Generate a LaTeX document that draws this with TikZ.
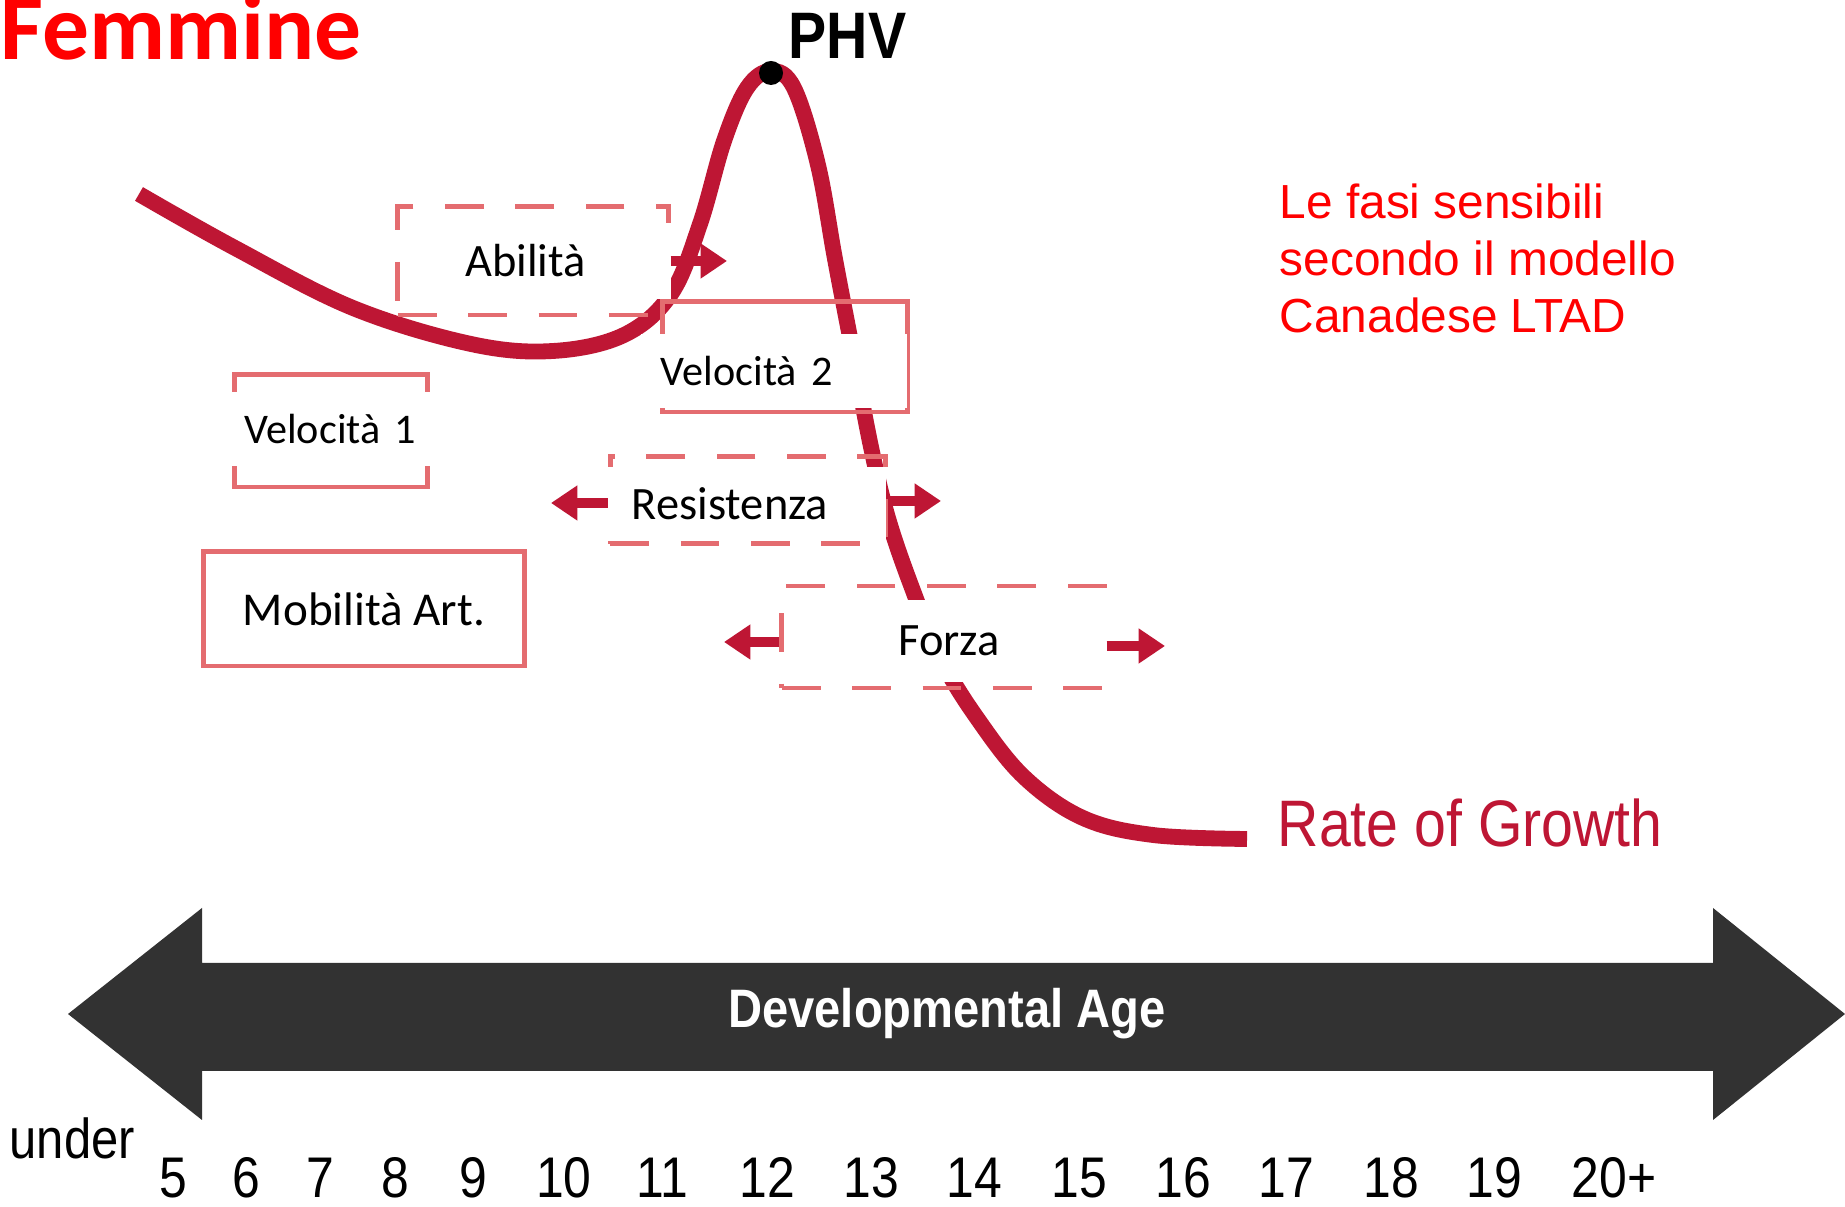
\documentclass[tikz,border=0pt]{standalone}
\usepackage{fontspec}
\setmainfont{Carlito}
\newfontfamily\arialfont{Liberation Sans}
\newfontfamily\condfont[FakeStretch=0.87]{Liberation Sans}
\usetikzlibrary{positioning,arrows.meta}

\definecolor{growthred}{RGB}{190,22,52}
\definecolor{boxred}{RGB}{228,108,112}
\definecolor{titlered}{RGB}{255,0,0}
\definecolor{axisgray}{RGB}{50,50,50}

\tikzset{
  solidbox/.style={draw=boxred, line width=1.4pt, rectangle, inner sep=0pt},
  dashbox/.style={solidbox, dash pattern=on 11pt off 9pt},
  lbl/.style={fill=white, inner ysep=0pt, font=\fontsize{13.2pt}{15pt}\selectfont},
  redarrow/.style={draw=growthred, line width=2.6pt, -{Triangle[length=7.5pt,width=9.5pt]}},
  agelbl/.style={anchor=base, inner sep=0pt, font=\condfont\fontsize{16.3pt}{19pt}\selectfont}
}

\begin{document}
\begin{tikzpicture}[x=0.01cm,y=-0.01cm]
\useasboundingbox (0,0) rectangle (1845,1207);
\fill[white] (0,0) rectangle (1845,1207);

\node[anchor=base west, inner sep=0pt, text=titlered, font=\bfseries\fontsize{26.6pt}{30pt}\selectfont] (title) at (0,60) {Femmine};

% growth curve
\draw[growthred, line width=4.5pt] plot[smooth, tension=0.6] coordinates {
  (139,194) (235,248) (353,308) (471,344) (553,351) (624,335) (671,294) (700,224)
  (724,141) (747,88) (771,71) (794,88) (818,165) (835,259) (853,353) (871,447)
  (888,518) (912,588) (941,659) (977,718) (1024,777) (1083,818) (1153,835) (1247,839)};

% sensitive phases
\node[dashbox, minimum width=2.70cm, minimum height=1.08cm] (abil box) at (533,261) {};
\node[solidbox, minimum width=2.45cm, minimum height=1.10cm] (vel2 box) at (785,357) {};
\node[solidbox, minimum width=1.93cm, minimum height=1.12cm] (vel1 box) at (331,431) {};
\node[dashbox, minimum width=2.75cm, minimum height=0.87cm] (res box) at (748,500) {};
\node[dashbox, minimum width=3.22cm, minimum height=1.02cm] (forza box) at (943,637) {};
\node[solidbox, minimum width=3.20cm, minimum height=1.14cm, font=\fontsize{13.4pt}{15pt}\selectfont] (mob box) at (364,609) {Mobilità Art.};

\node[lbl, minimum height=0.75cm, text width=1.45cm, inner xsep=0.60cm, align=left] (abil) at (538,261) {Abilità};
\node[lbl, minimum height=0.73cm, text width=2.26cm, inner xsep=0.20cm, align=left, font=\fontsize{12pt}{14pt}\selectfont] (vel2) at (774,371) {Velocità 2};
\node[lbl, minimum height=0.73cm, text width=1.75cm, inner xsep=0.21cm, align=left, font=\fontsize{12pt}{14pt}\selectfont] (vel1) at (332,429) {Velocità 1};
\node[lbl, minimum height=0.73cm, text width=2.24cm, inner xsep=0.30cm, align=left] (res) at (744,504) {Resistenza};
\node[lbl, minimum height=0.82cm, text width=3.26cm, inner xsep=0pt, align=center] (forza) at (949,641) {Forza};

% arrows
\coordinate (abil tip) at (727,261);
\coordinate (res ltip) at (551,503);
\coordinate (res rtip) at (941,501);
\coordinate (forza ltip) at (724,642);
\coordinate (forza rtip) at (1165,646);
\draw[redarrow] (abil box.east) -- (abil tip);
\draw[redarrow] (res box.west |- res ltip) -- (res ltip);
\draw[redarrow] (res box.east |- res rtip) -- (res rtip);
\draw[redarrow] (forza box.west |- forza ltip) -- (forza ltip);
\draw[redarrow] (forza box.east |- forza rtip) -- (forza rtip);

% peak height velocity
\node[circle, fill=black, inner sep=0pt, minimum size=0.24cm] (peak) at (771,73) {};
\node[anchor=base west, inner sep=0pt, font=\condfont\bfseries\fontsize{18.7pt}{22pt}\selectfont] (phv) at (788,59) {PHV};

\node[anchor=north west, inner sep=0pt, align=left, text=titlered, font=\arialfont\fontsize{13.6pt}{16.3pt}\selectfont] (note) at (1279,183) {Le fasi sensibili\\secondo il modello\\Canadese LTAD};
\node[anchor=base west, inner sep=0pt, text=growthred, font=\condfont\fontsize{18.7pt}{22pt}\selectfont] (rog) at (1277,847) {Rate of Growth};

% age axis
\fill[axisgray] (68,1014) -- (202,908) -- (202,963) -- (1713,963) -- (1713,908) -- (1845,1014)
  -- (1713,1120) -- (1713,1071) -- (202,1071) -- (202,1120) -- cycle;
\node[text=white, font=\condfont\bfseries\fontsize{15.4pt}{18pt}\selectfont] (devage) at (947,1014) {Developmental Age};

\node[anchor=base west, inner sep=0pt, font=\condfont\fontsize{16pt}{19pt}\selectfont] (under) at (9,1159) {under};
\foreach \age/\xpos [count=\i] in {5/173,6/246,7/320,8/395,9/473,10/564,11/662,12/767,13/871,14/974,15/1079,16/1183,17/1286,18/1391,19/1494,20+/1614}
  \node[agelbl] (age\i) at (\xpos,1198) {\age};

\end{tikzpicture}
\end{document}
